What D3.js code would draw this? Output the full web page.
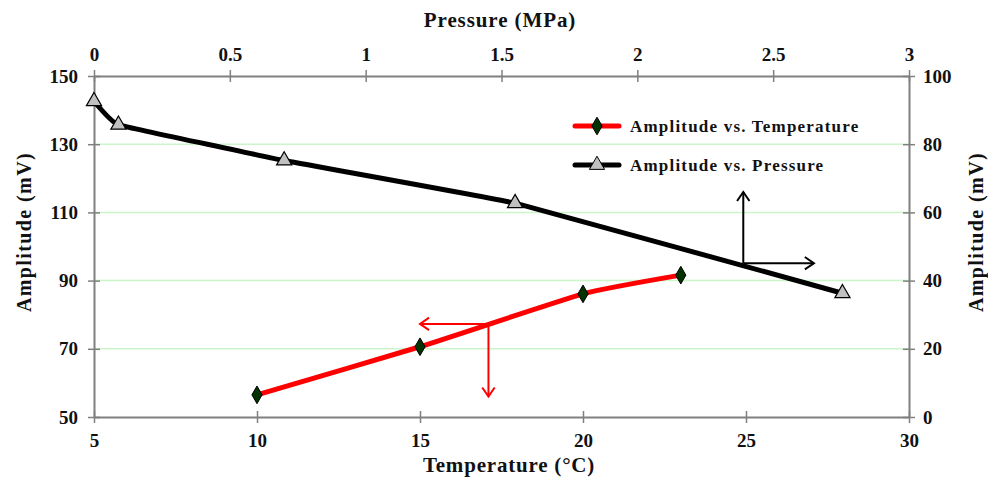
<!DOCTYPE html>
<html><head><meta charset="utf-8">
<script src="https://cdn.jsdelivr.net/npm/d3@7"></script>
<style>
body{margin:0;background:#fff;}
text{font-family:"Liberation Serif","Times New Roman",serif;font-weight:bold;fill:#111;}
</style></head>
<body><svg id="c" width="988" height="484"></svg>
<script>
// Data
const tempX = [10, 15, 20, 23];
const tempAmp = [56.5, 70.6, 86.1, 91.6];
const pressX = [0, 0.09, 0.70, 1.55, 2.755];
const pressAmp = [92.6, 85.7, 75.2, 62.7, 36.3];
const tempTicks = [5, 10, 15, 20, 25, 30];
const pressTicks = [0, 0.5, 1, 1.5, 2, 2.5, 3];
const leftTicks = [50, 70, 90, 110, 130, 150];
const rightTicks = [0, 20, 40, 60, 80, 100];
const legendLabels = ["Amplitude vs. Temperature", "Amplitude vs. Pressure"];
// annotation arrows (data coords)
const blackArrow = {p: 2.39, a: 45.1, aTop: 66.0, pRight: 2.65};
const redArrow = {t: 17.1, a: 77.3, tLeft: 15.0, aBottom: 56.0};

const svg = d3.select("#c");
const L = 94, R = 909, T = 76, B = 417;
const xT = d3.scaleLinear().domain([5, 30]).range([L, R]);
const xP = d3.scaleLinear().domain([0, 3]).range([L, R]);
const yL = d3.scaleLinear().domain([50, 150]).range([B, T]);
const yR = d3.scaleLinear().domain([0, 100]).range([B, T]);

// gridlines
svg.append("g").selectAll("line").data(leftTicks.filter(d => d > 50 && d < 150)).join("line")
  .attr("x1", L).attr("x2", R).attr("y1", d => yL(d)).attr("y2", d => yL(d))
  .attr("stroke", "#ccf5cc").attr("stroke-width", 1.5);

const axisColor = "#808080";
function styleAxis(g) {
  g.selectAll(".domain").attr("stroke", axisColor).attr("stroke-width", 2);
  g.selectAll(".tick line").attr("stroke", axisColor).attr("stroke-width", 1.5);
  g.selectAll(".tick text").attr("font-size", 19).attr("font-family", "Liberation Serif").attr("font-weight", "bold").attr("fill", "#111");
}
// bottom axis
const gB = svg.append("g").attr("transform", `translate(0,${B})`)
  .call(d3.axisBottom(xT).tickValues(tempTicks).tickSizeInner(6).tickSizeOuter(0).tickPadding(11).tickFormat(d3.format("d")));
gB.selectAll(".tick line").attr("y1", -6);
styleAxis(gB);
// top axis
const gT = svg.append("g").attr("transform", `translate(0,${T})`)
  .call(d3.axisTop(xP).tickValues(pressTicks).tickSizeInner(6).tickSizeOuter(0).tickPadding(9).tickFormat(d => String(d)));
gT.selectAll(".tick line").attr("y1", 6);
styleAxis(gT);
// left axis
const gL = svg.append("g").attr("transform", `translate(${L},0)`)
  .call(d3.axisLeft(yL).tickValues(leftTicks).tickSizeInner(6).tickSizeOuter(0).tickPadding(10).tickFormat(d3.format("d")));
gL.selectAll(".tick line").attr("x1", 6);
styleAxis(gL);
// right axis
const gR = svg.append("g").attr("transform", `translate(${R},0)`)
  .call(d3.axisRight(yR).tickValues(rightTicks).tickSizeInner(6).tickSizeOuter(0).tickPadding(8).tickFormat(d3.format("d")));
gR.selectAll(".tick line").attr("x1", -6);
styleAxis(gR);

// axis titles
svg.append("text").attr("x", 500).attr("y", 27).attr("text-anchor", "middle").attr("font-size", 21).attr("letter-spacing", 0.9).text("Pressure (MPa)");
svg.append("text").attr("x", 509).attr("y", 472).attr("text-anchor", "middle").attr("font-size", 21).attr("letter-spacing", 0.8).text("Temperature (°C)");
svg.append("text").attr("transform", "translate(31,232) rotate(-90)").attr("text-anchor", "middle").attr("font-size", 20).attr("letter-spacing", 1.4).text("Amplitude (mV)");
svg.append("text").attr("transform", "translate(983,232) rotate(-90)").attr("text-anchor", "middle").attr("font-size", 20).attr("letter-spacing", 1.4).text("Amplitude (mV)");

// series lines
const lineT = d3.line().x(d => xT(d[0])).y(d => yL(d[1])).curve(d3.curveCardinal.tension(0.55));
const lineP = d3.line().x(d => xP(d[0])).y(d => yR(d[1])).curve(d3.curveCardinal.tension(0.8));
const tData = tempX.map((x, i) => [x, tempAmp[i]]);
const pData = pressX.map((x, i) => [x, pressAmp[i]]);

svg.append("path").datum(pData).attr("d", lineP).attr("fill", "none").attr("stroke", "#000").attr("stroke-width", 5).attr("stroke-linejoin", "round");
svg.append("path").datum(tData).attr("d", lineT).attr("fill", "none").attr("stroke", "#ff0000").attr("stroke-width", 5).attr("stroke-linejoin", "round");

// arrows
function arrow(x1, y1, x2, y2, color) {
  svg.append("line").attr("x1", x1).attr("y1", y1).attr("x2", x2).attr("y2", y2).attr("stroke", color).attr("stroke-width", 2);
  const ang = Math.atan2(y2 - y1, x2 - x1), h = 11, w = 0.6;
  const p1 = [x2 - h * Math.cos(ang - w), y2 - h * Math.sin(ang - w)];
  const p2 = [x2 - h * Math.cos(ang + w), y2 - h * Math.sin(ang + w)];
  svg.append("polyline").attr("points", `${p1} ${x2},${y2} ${p2}`).attr("fill", "none").attr("stroke", color).attr("stroke-width", 2);
}
arrow(xP(blackArrow.p), yR(blackArrow.a), xP(blackArrow.p), yR(blackArrow.aTop), "#000");
arrow(xP(blackArrow.p), yR(blackArrow.a), xP(blackArrow.pRight), yR(blackArrow.a), "#000");
arrow(xT(redArrow.t), yL(redArrow.a), xT(redArrow.tLeft), yL(redArrow.a), "#ff0000");
arrow(xT(redArrow.t), yL(redArrow.a), xT(redArrow.t), yL(redArrow.aBottom), "#ff0000");

// markers
const tri = d3.symbol().type(d3.symbolTriangle).size(100);
const dia = d3.symbol().type(d3.symbolDiamond).size(90);
svg.append("g").selectAll("path").data(pData).join("path")
  .attr("transform", d => `translate(${xP(d[0])},${yR(d[1])})`).attr("d", tri)
  .attr("fill", "#c0c0c0").attr("stroke", "#000").attr("stroke-width", 1.2);
svg.append("g").selectAll("path").data(tData).join("path")
  .attr("transform", d => `translate(${xT(d[0])},${yL(d[1])})`).attr("d", dia)
  .attr("fill", "#003300").attr("stroke", "#000").attr("stroke-width", 1);

// legend
const leg = svg.append("g");
const legColors = ["#ff0000", "#000"];
legendLabels.forEach((lab, i) => {
  const y = 126 + i * 39;
  leg.append("line").attr("x1", 575).attr("x2", 619).attr("y1", y).attr("y2", y).attr("stroke", legColors[i]).attr("stroke-width", 5).attr("stroke-linecap", "round");
  leg.append("path").attr("transform", `translate(597,${y})`).attr("d", i === 0 ? dia : tri)
    .attr("fill", i === 0 ? "#003300" : "#c0c0c0").attr("stroke", "#000").attr("stroke-width", 1);
  leg.append("text").attr("x", 630).attr("y", y + 6).attr("font-size", 17).attr("letter-spacing", 1.2).text(lab);
});
</script></body></html>
